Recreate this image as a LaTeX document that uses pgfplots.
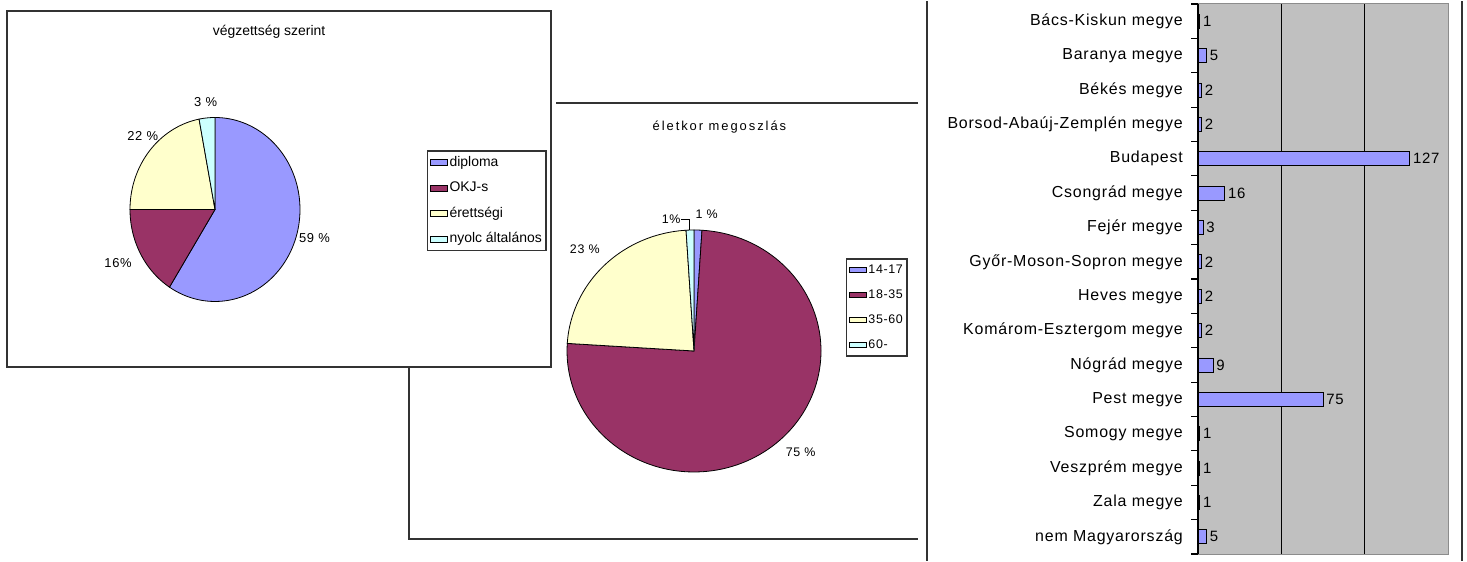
\documentclass[border=0pt]{standalone}
\usepackage{pgfplots}
\pgfplotsset{compat=1.18}
\usepackage{fontspec}
\setmainfont{Liberation Sans}
\newfontfamily\lsfont[LetterSpace=5]{Liberation Sans}
\newfontfamily\lswide[LetterSpace=15]{Liberation Sans}
\definecolor{pieblue}{HTML}{9999FF}
\definecolor{piemaroon}{HTML}{993366}
\definecolor{pieyellow}{HTML}{FFFFCC}
\definecolor{piecyan}{HTML}{CCFFFF}
\definecolor{plotgray}{HTML}{C0C0C0}
\definecolor{edgegray}{HTML}{8C8C8C}
\definecolor{frame}{HTML}{333333}
\begin{document}
\begin{tikzpicture}[x=1bp,y=1bp]
\path (0,0) rectangle (1467,560);
% frame of chart 2 (partly hidden behind chart 1)
\draw[frame, line width=1.5bp] (918,458) -- (556,458);
\draw[frame, line width=1.5bp] (409,194) -- (409,22) -- (918,22);
% frame of chart 1
\draw[frame, line width=1.5bp, fill=white] (7,194) rectangle (551,550);
% frame of chart 3
\draw[frame, line width=1.5bp] (927,0) -- (927,560);
\draw[frame, line width=2bp] (1462,0) -- (1462,560);

% ---------- pie 1: végzettség szerint ----------
\begin{axis}[at={(215bp,351.5bp)}, anchor=center,
  width=170bp, height=184bp, scale only axis,
  xmin=-1, xmax=1, ymin=-1, ymax=1, hide axis, clip=false,
  title={végzettség szerint},
  title style={at={(axis description cs:0.818,1.432)}, anchor=center, yshift=0pt, font=\fontsize{14}{16}\selectfont},
  legend style={at={(1.747,0.821)}, anchor=north west, draw=frame, line width=1.5bp,
    font=\fontsize{14}{16}\selectfont, inner xsep=2bp, inner ysep=3bp, row sep=8.5bp,
    nodes={inner sep=2bp, text height=10bp, text depth=3bp}, cells={anchor=west}},
  legend image code/.code={\draw[#1, line width=0.6bp, draw=black] (0bp,-4.5bp) rectangle (9bp,4.5bp);},
]
% diploma 59 %
\addplot[fill=pieblue, draw=black, line width=0.8bp, domain=-122.4:90, samples=90, area legend] ({cos(x)},{sin(x)}) -- (0,0) -- cycle;
\addlegendentry{diploma}
% OKJ-s 16 %
\addplot[fill=piemaroon, draw=black, line width=0.8bp, domain=-180:-122.4, samples=40, area legend] ({cos(x)},{sin(x)}) -- (0,0) -- cycle;
\addlegendentry{OKJ-s}
% érettségi 22 %
\addplot[fill=pieyellow, draw=black, line width=0.8bp, domain=-259.2:-180, samples=50, area legend] ({cos(x)},{sin(x)}) -- (0,0) -- cycle;
\addlegendentry{érettségi}
% nyolc általános 3 %
\addplot[fill=piecyan, draw=black, line width=0.8bp, domain=-270:-259.2, samples=10, area legend] ({cos(x)},{sin(x)}) -- (0,0) -- cycle;
\addlegendentry{nyolc általános}
\node[font=\lsfont\fontsize{13}{15}\selectfont] at (axis cs:-0.11,1.17) {3 \%};
\node[font=\lsfont\fontsize{13}{15}\selectfont] at (axis cs:-0.85,0.80) {22 \%};
\node[font=\lsfont\fontsize{13}{15}\selectfont] at (axis cs:1.17,-0.31) {59 \%};
\node[font=\lsfont\fontsize{13}{15}\selectfont] at (axis cs:-1.14,-0.58) {16\%};
\end{axis}

% ---------- pie 2: életkor megoszlás ----------
\begin{axis}[at={(694bp,210bp)}, anchor=center,
  width=254bp, height=242bp, scale only axis,
  xmin=-1, xmax=1, ymin=-1, ymax=1, hide axis, clip=false,
  title={életkor megoszlás},
  title style={at={(axis description cs:0.6,1.40)}, anchor=center, yshift=0pt, font=\lswide\fontsize{13}{15}\selectfont},
  legend style={at={(1.098,0.884)}, anchor=north west, draw=frame, line width=1.5bp,
    font=\lsfont\fontsize{12.5}{14}\selectfont, inner xsep=2bp, inner ysep=4bp, row sep=11bp,
    nodes={inner sep=2bp, text height=9bp, text depth=1bp}, cells={anchor=west}},
  legend image code/.code={\draw[#1, line width=0.6bp, draw=black] (0bp,-4.5bp) rectangle (9bp,4.5bp);},
]
% 14-17: 1 %
\addplot[fill=pieblue, draw=black, line width=0.8bp, domain=86.4:90, samples=5, area legend] ({cos(x)},{sin(x)}) -- (0,0) -- cycle;
\addlegendentry{14-17}
% 18-35: 75 %
\addplot[fill=piemaroon, draw=black, line width=0.8bp, domain=-183.6:86.4, samples=120, area legend] ({cos(x)},{sin(x)}) -- (0,0) -- cycle;
\addlegendentry{18-35}
% 35-60: 23 %
\addplot[fill=pieyellow, draw=black, line width=0.8bp, domain=-266.4:-183.6, samples=50, area legend] ({cos(x)},{sin(x)}) -- (0,0) -- cycle;
\addlegendentry{35-60}
% 60-: 1 %
\addplot[fill=piecyan, draw=black, line width=0.8bp, domain=-270:-266.4, samples=5, area legend] ({cos(x)},{sin(x)}) -- (0,0) -- cycle;
\addlegendentry{60-}
\draw[black, line width=0.8bp] (axis cs:-0.10,1.09) -- (axis cs:-0.035,1.09) -- (axis cs:-0.035,1.0);
\node[font=\lsfont\fontsize{12.5}{14}\selectfont] at (axis cs:-0.18,1.09) {1\%};
\node[font=\lsfont\fontsize{12.5}{14}\selectfont] at (axis cs:0.10,1.13) {1 \%};
\node[font=\lsfont\fontsize{12.5}{14}\selectfont] at (axis cs:-0.86,0.84) {23 \%};
\node[font=\lsfont\fontsize{12.5}{14}\selectfont] at (axis cs:0.84,-0.84) {75 \%};
\end{axis}

% ---------- bar chart by county ----------
\begin{axis}[at={(1198bp,7bp)}, anchor=south west,
  width=250bp, height=550bp, scale only axis, clip=false,
  xbar, bar width=14bp,
  xmin=0, xmax=150, ymin=-0.5, ymax=15.5, y dir=reverse,
  ytick={0,1,2,3,4,5,6,7,8,9,10,11,12,13,14,15},
  yticklabels={Bács-Kiskun megye, Baranya megye, Békés megye, Borsod-Abaúj-Zemplén megye, Budapest, Csongrád megye, Fejér megye, Győr-Moson-Sopron megye, Heves megye, Komárom-Esztergom megye, Nógrád megye, Pest megye, Somogy megye, Veszprém megye, Zala megye, nem Magyarország},
  yticklabel style={font=\lsfont\fontsize{16}{18}\selectfont, anchor=east, inner sep=0pt, xshift=-15bp},
  xtick={50,100}, xticklabels={},
  xmajorgrids, major grid style={black, line width=1.2bp},
  major tick length=0pt,
  axis line style={draw=edgegray, line width=1bp},
  axis background/.style={fill=plotgray},
  /pgf/number format/assume math mode=true,
  nodes near coords,
  nodes near coords style={anchor=west, inner sep=3bp, font=\lsfont\fontsize{15}{17}\selectfont, black},
]
\addplot[fill=pieblue, draw=black, line width=0.8bp] coordinates {
 (1,0) (5,1) (2,2) (2,3) (127,4) (16,5) (3,6) (2,7)
 (2,8) (2,9) (9,10) (75,11) (1,12) (1,13) (1,14) (5,15)};
\draw[black, line width=1.5bp] (rel axis cs:0,0) -- (rel axis cs:0,1);
% boundary tick marks between the categories
\pgfplotsinvokeforeach{-0.5,0.5,1.5,2.5,3.5,4.5,5.5,6.5,7.5,8.5,9.5,10.5,11.5,12.5,13.5,14.5,15.5}{
  \draw[black, line width=1.2bp] (axis cs:0,#1) -- ++(-7bp,0bp);
}
\end{axis}
\end{tikzpicture}
\end{document}
